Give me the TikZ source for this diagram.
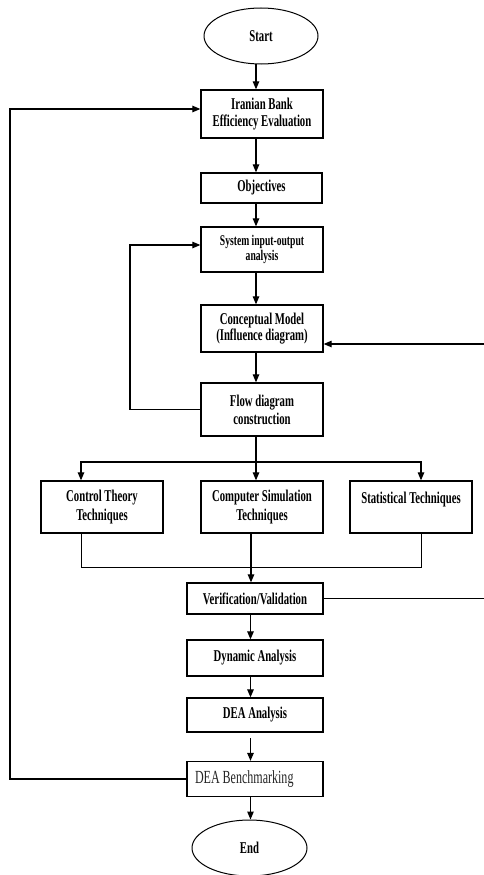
\documentclass[tikz,border=0pt]{standalone}
\usepackage{fontspec}
\usetikzlibrary{shapes.geometric,arrows.meta}
\newfontfamily\tbfam[FakeStretch=0.65]{Liberation Serif}
\begin{document}
\begin{tikzpicture}[x=1pt,y=-1pt,
  box/.style={draw, line width=1.3pt, inner sep=0pt, align=center,
    font=\tbfam\bfseries\fontsize{16.5}{17}\selectfont},
  term/.style={draw, ellipse, line width=1pt, inner sep=0pt,
    minimum width=114pt, minimum height=56pt,
    font=\tbfam\bfseries\fontsize{16.5}{17}\selectfont},
  conn/.style={line width=1.2pt},
  arr/.style={conn, -{Triangle[length=8pt,width=6.5pt]}}
]
\useasboundingbox[fill=white] (0,0) rectangle (483,875);

% coordinates for connector x positions
\coordinate (mx) at (256,0);
\coordinate (lx) at (250.5,0);
\coordinate (cx) at (81,0);
\coordinate (sx) at (421,0);
\coordinate (br) at (256,462);
\coordinate (mg) at (251,567);
\coordinate (fbA) at (10,109);
\coordinate (fbB) at (130,245);
\coordinate (fbC) at (487,344);
\coordinate (gap) at (250.5,738);

% nodes
\node[term] (start) at (261,36) {Start};
\node[box, minimum width=122pt, minimum height=48pt] (iran) at (262,114)
  {Iranian Bank\\Efficiency Evaluation};
\node[box, minimum width=121pt, minimum height=30pt] (obj) at (261.5,188) {Objectives};
\node[box, minimum width=122pt, minimum height=45pt,
  font=\tbfam\bfseries\fontsize{14.8}{15}\selectfont] (sys) at (262,249.5)
  {System input-output\\analysis};
\node[box, minimum width=122pt, minimum height=47pt,
  font=\tbfam\bfseries\fontsize{16.5}{13.5}\selectfont] (con) at (262,328.5)
  {Conceptual Model\\(Influence diagram)};
\node[box, minimum width=122pt, minimum height=53pt,
  font=\tbfam\bfseries\fontsize{16.5}{18}\selectfont] (flow) at (262,409.5)
  {Flow diagram\\construction};
\node[box, minimum width=122pt, minimum height=52pt,
  font=\tbfam\bfseries\fontsize{16.5}{19}\selectfont] (ctl) at (102,507)
  {Control Theory\\Techniques};
\node[box, minimum width=122pt, minimum height=52pt,
  font=\tbfam\bfseries\fontsize{16.5}{19}\selectfont] (sim) at (262,507)
  {Computer Simulation\\Techniques};
\node[box, minimum width=122pt, minimum height=52pt,
  font=\tbfam\bfseries\fontsize{16.5}{19}\selectfont] (stat) at (411,507)
  {Statistical Techniques\\\mbox{}};
\node[box, minimum width=136pt, minimum height=31pt] (ver) at (255,598.5)
  {Verification/Validation};
\node[box, minimum width=136pt, minimum height=36pt] (dyn) at (255,658)
  {Dynamic Analysis};
\node[box, minimum width=136pt, minimum height=34pt] (dea) at (255,715)
  {DEA Analysis};
\node[box, minimum width=136pt, minimum height=35pt,
  text=black!85, font=\tbfam\fontsize{18.5}{19}\selectfont] (bench) at (255,779)
  {\makebox[120pt][l]{DEA Benchmarking}};
\node[term, minimum width=115pt] (end) at (249.5,848) {End};

% main flow
\draw[arr] (start.south -| mx) -- (iran.north -| mx);
\draw[arr] (iran.south -| mx) -- (obj.north -| mx);
\draw[arr] (obj.south -| mx) -- (sys.north -| mx);
\draw[arr] (sys.south -| mx) -- (con.north -| mx);
\draw[arr] (con.south -| mx) -- (flow.north -| mx);

% branch
\draw[conn] (flow.south -| mx) -- (br);
\draw[arr] (br) -- (sim.north -| mx);
\draw[arr] (br) -| (ctl.north -| cx);
\draw[arr] (br) -| (stat.north -| sx);

% merge
\draw[line width=1pt] (ctl.south -| cx) -- (cx |- mg) -- (sx |- mg) -- (stat.south -| sx);
\draw[arr] (sim.south -| mg) -- (ver.north -| mg);

% lower flow
\draw[arr] (ver.south -| lx) -- (dyn.north -| lx);
\draw[arr] (dyn.south -| lx) -- (dea.north -| lx);
\draw[arr] (gap) -- (bench.north -| lx);
\draw[arr] (bench.south -| lx) -- (end.north -| lx);

% feedback loops
\draw[arr] (bench.west) -| (fbA) -- (iran.west |- fbA);
\draw[arr] (flow.west) -| (fbB) -- (sys.west |- fbB);
\draw[conn,-{Triangle[length=8pt,width=6.5pt]}] (ver.east) -| (fbC) -- (con.east |- fbC);
\end{tikzpicture}
\end{document}
